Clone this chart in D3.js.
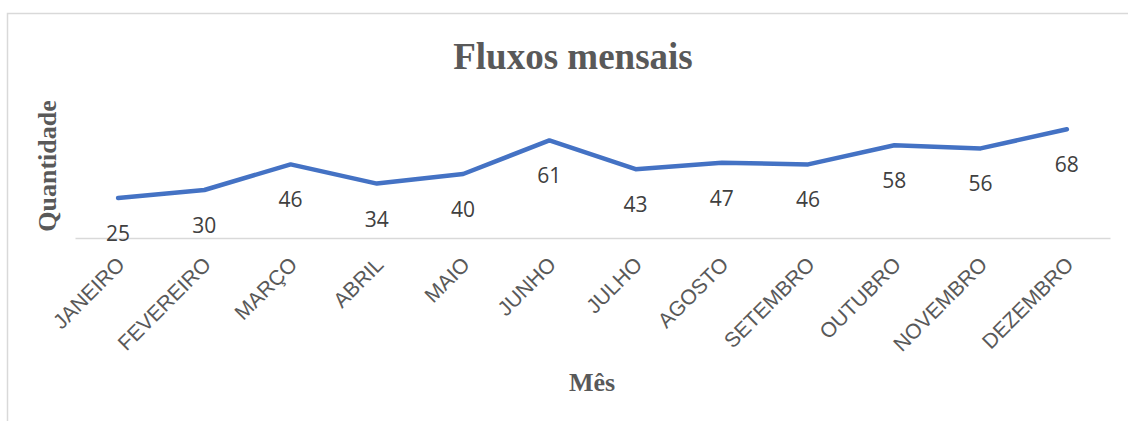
<!DOCTYPE html>
<html>
<head>
<meta charset="utf-8">
<script src="https://cdn.jsdelivr.net/npm/d3@7"></script>
<style>
  html, body { margin: 0; padding: 0; background: #fff; }
</style>
</head>
<body>
<svg id="chart"></svg>
<script>
  "use strict";

  // meses e quantidades
  var meses = ["JANEIRO", "FEVEREIRO", "MARÇO", "ABRIL", "MAIO", "JUNHO",
               "JULHO", "AGOSTO", "SETEMBRO", "OUTUBRO", "NOVEMBRO", "DEZEMBRO"];
  var quantidades = [25, 30, 46, 34, 40, 61, 43, 47, 46, 58, 56, 68];
  var yDomain = [0, 80];

  var width = 1128, height = 421;
  var plot = { left: 75, right: 1110, top: 110, bottom: 238 };

  var svg = d3.select("#chart")
    .attr("width", width)
    .attr("height", height);

  // moldura
  svg.append("rect")
    .attr("x", 7.5)
    .attr("y", 13.5)
    .attr("width", width + 10)
    .attr("height", height + 10)
    .attr("fill", "#fff")
    .attr("stroke", "#d9d9d9")
    .attr("stroke-width", 1.5);

  var x = d3.scaleBand()
    .domain(meses)
    .range([plot.left, plot.right]);
  var y = d3.scaleLinear()
    .domain(yDomain)
    .range([plot.bottom, plot.top]);

  // eixo x
  var xAxis = svg.append("g")
    .attr("transform", `translate(0, ${plot.bottom})`)
    .call(d3.axisBottom(x).tickSize(0).tickPadding(0));
  xAxis.select(".domain")
    .attr("stroke", "#d9d9d9")
    .attr("stroke-width", 1.5);
  xAxis.selectAll("text")
    .attr("font-family", "'Liberation Sans', Arial, sans-serif")
    .attr("font-size", 21)
    .attr("fill", "#595959")
    .attr("text-anchor", "end")
    .attr("dy", null)
    .attr("y", 0)
    .attr("transform", "translate(8, 28) rotate(-45)");

  // linha
  var line = d3.line()
    .x((d, i) => x(meses[i]) + x.bandwidth() / 2)
    .y(d => y(d));
  svg.append("path")
    .datum(quantidades)
    .attr("fill", "none")
    .attr("stroke", "#4472c4")
    .attr("stroke-width", 4.5)
    .attr("stroke-linecap", "round")
    .attr("stroke-linejoin", "round")
    .attr("d", line);

  // rótulos
  svg.append("g")
    .selectAll("text")
    .data(quantidades)
    .enter()
    .append("text")
    .attr("x", (d, i) => x(meses[i]) + x.bandwidth() / 2)
    .attr("y", d => y(d) + 43)
    .attr("text-anchor", "middle")
    .attr("font-family", "'Open Sans', 'Noto Sans', sans-serif")
    .attr("font-size", 21)
    .attr("fill", "#404040")
    .text(d => d);

  // título
  svg.append("text")
    .attr("x", 573)
    .attr("y", 69)
    .attr("text-anchor", "middle")
    .attr("font-family", "'Liberation Serif', 'Times New Roman', serif")
    .attr("font-weight", "bold")
    .attr("font-size", 37)
    .attr("fill", "#595959")
    .text("Fluxos mensais");

  svg.append("text")
    .attr("transform", "translate(56, 166) rotate(-90)")
    .attr("text-anchor", "middle")
    .attr("font-family", "'Liberation Serif', 'Times New Roman', serif")
    .attr("font-weight", "bold")
    .attr("font-size", 26)
    .attr("fill", "#595959")
    .text("Quantidade");

  svg.append("text")
    .attr("x", 592)
    .attr("y", 391)
    .attr("text-anchor", "middle")
    .attr("font-family", "'Liberation Serif', 'Times New Roman', serif")
    .attr("font-weight", "bold")
    .attr("font-size", 26)
    .attr("fill", "#595959")
    .text("Mês");
</script>
</body>
</html>
